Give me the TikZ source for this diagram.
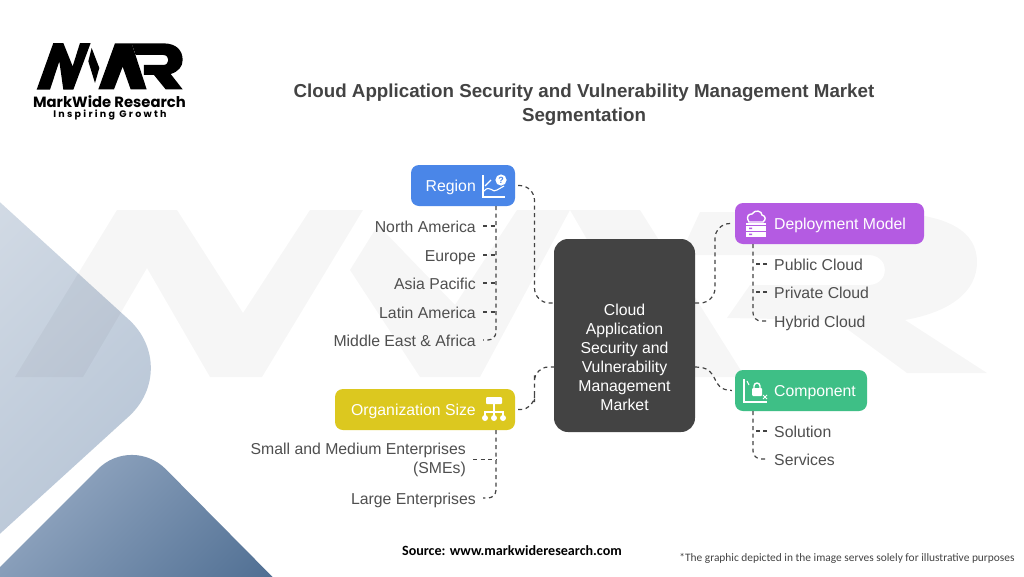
\documentclass[tikz,border=0pt]{standalone}
\usepackage{fontspec}
\setmainfont{Liberation Sans}
\newfontfamily\logofont{Poppins}
\newfontfamily\taglinefont[LetterSpace=24]{Poppins}
\newfontfamily\notefont{Carlito}
\usetikzlibrary{positioning}
\definecolor{coregrey}{HTML}{434343}
\definecolor{textgrey}{HTML}{4F4F4F}
\definecolor{regionblue}{HTML}{4A86E8}
\definecolor{deployviolet}{HTML}{B45BE2}
\definecolor{componentgreen}{HTML}{3EBF86}
\definecolor{orgyellow}{HTML}{DCC81F}
\definecolor{paleleft}{HTML}{D8DFE8}
\definecolor{paleright}{HTML}{B2C1D3}
\definecolor{deepleft}{HTML}{A0B2CA}
\definecolor{deepright}{HTML}{4A6A8F}
\tikzset{
  catbox/.style={rounded corners=8pt, minimum height=41pt, inner sep=0pt},
  cattext/.style={text=white, inner sep=0pt, text height=14pt, text depth=2pt, font=\fontsize{15.8}{19}\selectfont},
  itemleft/.style={anchor=east, align=right, text=textgrey, inner xsep=7pt, inner ysep=0pt, text height=14pt, text depth=2pt, font=\fontsize{15.8}{19}\selectfont},
  itemright/.style={anchor=west, text=textgrey, inner xsep=7pt, inner ysep=0pt, text height=14pt, text depth=2pt, font=\fontsize{15.8}{19}\selectfont},
  link/.style={draw=coregrey, line width=1.2pt, dash pattern=on 4pt off 3.5pt},
  iconline/.style={draw=white, line width=1.4pt},
  watermark/.style={fill=black, opacity=.035}
}
\begin{document}
\begin{tikzpicture}[x=1pt,y=-1pt]
\useasboundingbox (0,0) rectangle (1024,576);
\clip (0,0) rectangle (1024,576);
\fill[white] (0,0) rectangle (1024,576);

\shade[left color=paleleft, right color=paleright, shading angle=45, rounded corners=72pt]
  (-120,93) -- (182,368) -- (-120,643) -- cycle;
\shade[left color=deepleft, right color=deepright, shading angle=45, rounded corners=48pt]
  (132,435) -- (330,635) -- (-70,637) -- cycle;

\fill[watermark] (15,377) -- (117,210) -- (177,210) -- (243,313) -- (310,210) -- (363,210) -- (262,377) -- (210,377) -- (147,268) -- (83,377) -- cycle;
\fill[watermark] (350,270) -- (378,225) -- (455,305) -- (517,210) -- (570,210) -- (480,377) -- (420,377) -- cycle;
\fill[watermark] (570,210) -- (640,210) -- (745,377) -- (680,377) -- (600,262) -- cycle;
\fill[watermark] (700,212) -- (885,212) .. controls (950,214) and (977,232) .. (977,262) .. controls (977,292) and (950,312) .. (905,320)
  -- (987,373) -- (907,373) -- (835,320) -- (727,318) -- (750,285) -- (870,285) .. controls (890,283) and (890,257) .. (870,255) -- (680,255) -- cycle;

\begin{scope}[shift={(0,20)},x=0.3333pt,y=-0.3333pt]
\fill[black] (110,209) -- (160,69) -- (190,69) -- (218,139) -- (240,69) -- (272,69) -- (220,209) -- (190,209) -- (178,124) -- (150,209) -- cycle;
\fill[black] (275,84) -- (298,144) -- (285,189) -- (265,124) -- cycle;
\fill[black] (295,208) -- (345,70) -- (395,70) -- (440,208) -- (392,208) -- (368,140) -- (342,208) -- cycle;
\fill[black] (395,70) -- (490,70) .. controls (530,70) and (548,92) .. (548,120) .. controls (548,140) and (535,155) .. (512,162)
  -- (548,208) -- (497,208) -- (462,165) -- (432,165) -- (432,135) -- (490,135) .. controls (510,135) and (510,105) .. (490,105) -- (407,105) -- cycle;
\end{scope}
\node[inner sep=0pt, font=\logofont\bfseries\fontsize{14.8}{16}\selectfont] (logoname) at (109.5,101.5) {MarkWide Research};
\node[inner sep=0pt, font=\taglinefont\bfseries\fontsize{9.5}{11}\selectfont] (logotag) at (110,115) {Inspiring Growth};

\node[align=center, text=coregrey, inner sep=0pt, font=\bfseries\fontsize{18.75}{24}\selectfont] (title) at (584,105) {Cloud Application Security and Vulnerability Management Market\\Segmentation};

\node[fill=coregrey, rounded corners=14pt, minimum width=141pt, minimum height=193pt, inner sep=0pt] (core) at (624.5,335.5) {};
\node[align=center, text=white, inner sep=0pt, font=\fontsize{15.8}{19}\selectfont] (corelabel) at (624.5,357.5) {Cloud\\Application\\Security and\\Vulnerability\\Management\\Market};
\coordinate (coreleftup) at (core.west |- 0,303);
\coordinate (coreleftdown) at (core.west |- 0,367);
\coordinate (corerightup) at (core.east |- 0,303);
\coordinate (corerightdown) at (core.east |- 0,367);

\node[catbox, fill=regionblue, minimum width=104pt] (region) at (463,185.5) {};
\node[cattext, anchor=east] (regionlabel) at (476,185.5) {Region};
\node[catbox, fill=deployviolet, minimum width=189pt] (deploy) at (829.5,223.5) {};
\node[cattext, anchor=west] (deploylabel) at (774,223.5) {Deployment Model};
\node[catbox, fill=componentgreen, minimum width=132pt] (component) at (801,390.5) {};
\node[cattext, anchor=west] (componentlabel) at (774,390.5) {Component};
\node[catbox, fill=orgyellow, minimum width=180pt] (org) at (425,409.5) {};
\node[cattext, anchor=east] (orglabel) at (476,409.5) {Organization Size};

\node[itemleft] (northamerica) at (483,226) {North America};
\node[itemleft] (europe) at (483,255) {Europe};
\node[itemleft] (asiapacific) at (483,283) {Asia Pacific};
\node[itemleft] (latinamerica) at (483,312) {Latin America};
\node[itemleft] (mideast) at (483,340) {Middle East \& Africa};
\node[itemright] (publiccloud) at (767,264) {Public Cloud};
\node[itemright] (privatecloud) at (767,292) {Private Cloud};
\node[itemright] (hybridcloud) at (767,321) {Hybrid Cloud};
\node[itemright] (solution) at (767,431) {Solution};
\node[itemright] (services) at (767,459) {Services};
\node[itemleft, text height=, text depth=] (smes) at (473,459.5) {Small and Medium Enterprises\\(SMEs)};
\node[itemleft] (largeent) at (483,498) {Large Enterprises};

\coordinate (regiontrunk) at (496,206);
\coordinate (orgtrunk) at (496,430);
\coordinate (deploytrunk) at (753,244);
\coordinate (componenttrunk) at (753,411);
\coordinate (regionbend) at (534.5,245);
\coordinate (orgbend) at (534.5,388);
\coordinate (deploybend) at (715,263);
\coordinate (componentbend) at (715,378);

\draw[link, rounded corners=15pt, shorten <=3pt] (region.east) -| (regionbend) |- (coreleftup);
\draw[link, rounded corners=14pt, shorten <=3pt] (org.east) -| (orgbend) |- (coreleftdown);
\draw[link, rounded corners=15pt, shorten >=3pt] (corerightup) -| (deploybend) |- (deploy.west);
\draw[link, shorten >=3pt] (corerightdown) .. controls (722,367) and (708,390) .. (component.west);

\draw[link, rounded corners=8pt] (regiontrunk) |- (mideast.east);
\draw[link] (northamerica.east) -- (northamerica.east -| regiontrunk);
\draw[link] (europe.east) -- (europe.east -| regiontrunk);
\draw[link] (asiapacific.east) -- (asiapacific.east -| regiontrunk);
\draw[link] (latinamerica.east) -- (latinamerica.east -| regiontrunk);
\draw[link, rounded corners=8pt] (orgtrunk) |- (largeent.east);
\draw[link] (smes.east) -- (smes.east -| orgtrunk);
\draw[link, rounded corners=8pt] (deploytrunk) |- (hybridcloud.west);
\draw[link] (publiccloud.west) -- (publiccloud.west -| deploytrunk);
\draw[link] (privatecloud.west) -- (privatecloud.west -| deploytrunk);
\draw[link, rounded corners=8pt] (componenttrunk) |- (services.west);
\draw[link] (solution.west) -- (solution.west -| componenttrunk);

\draw[iconline] (483,175) -- (483,197) -- (505,197);
\draw[iconline, line width=1.1pt] (484,191) .. controls (490,184) and (493,194) .. (497,190) -- (504,186);
\draw[iconline, line width=1.1pt] (485,186) -- (491,180);
\fill[white] (501,180) circle (5.6pt);
\node[inner sep=0pt, text=regionblue, font=\bfseries\fontsize{9}{9}\selectfont] (regionquery) at (501,180) {?};

\fill[white, rounded corners=1pt] (486,397) rectangle (502,404);
\draw[iconline] (494,404) -- (494,418);
\draw[iconline] (485,418) -- (485,412) -- (503,412) -- (503,418);
\fill[white] (485,418) circle (3pt) (494,418) circle (3pt) (503,418) circle (3pt);

\draw[iconline] (749,222) .. controls (745,215) and (750,214) .. (752,214) .. controls (755,209) and (762,211) .. (762,215) .. controls (766,216) and (766,220) .. (763,222) -- cycle;
\fill[white] (746,223) rectangle (766,224.5);
\fill[white] (746,226) rectangle (766,230.5);
\fill[white] (746,232) rectangle (766,236.5);
\fill[deployviolet] (749,227.5) rectangle (752,229) (749,233.5) rectangle (752,235);

\draw[iconline] (744,379) -- (744,402) -- (767,402);
\draw[iconline, line width=1pt] (747,381) -- (749,385);
\fill[white, rounded corners=1pt] (752,388) rectangle (762,396);
\draw[iconline] (754,388) -- (754,386) arc (180:360:3) -- (760,388);
\draw[iconline, line width=1pt] (763,395) -- (767,399) (767,395) -- (763,399);

\node[inner sep=0pt, font=\notefont\bfseries\fontsize{14.1}{15}\selectfont] (source) at (512,551) {Source: www.markwideresearch.com};
\node[inner sep=0pt, text=coregrey, font=\notefont\fontsize{11.4}{13}\selectfont] (disclaimer) at (847,558) {*The graphic depicted in the image serves solely for illustrative purposes};
\end{tikzpicture}
\end{document}
